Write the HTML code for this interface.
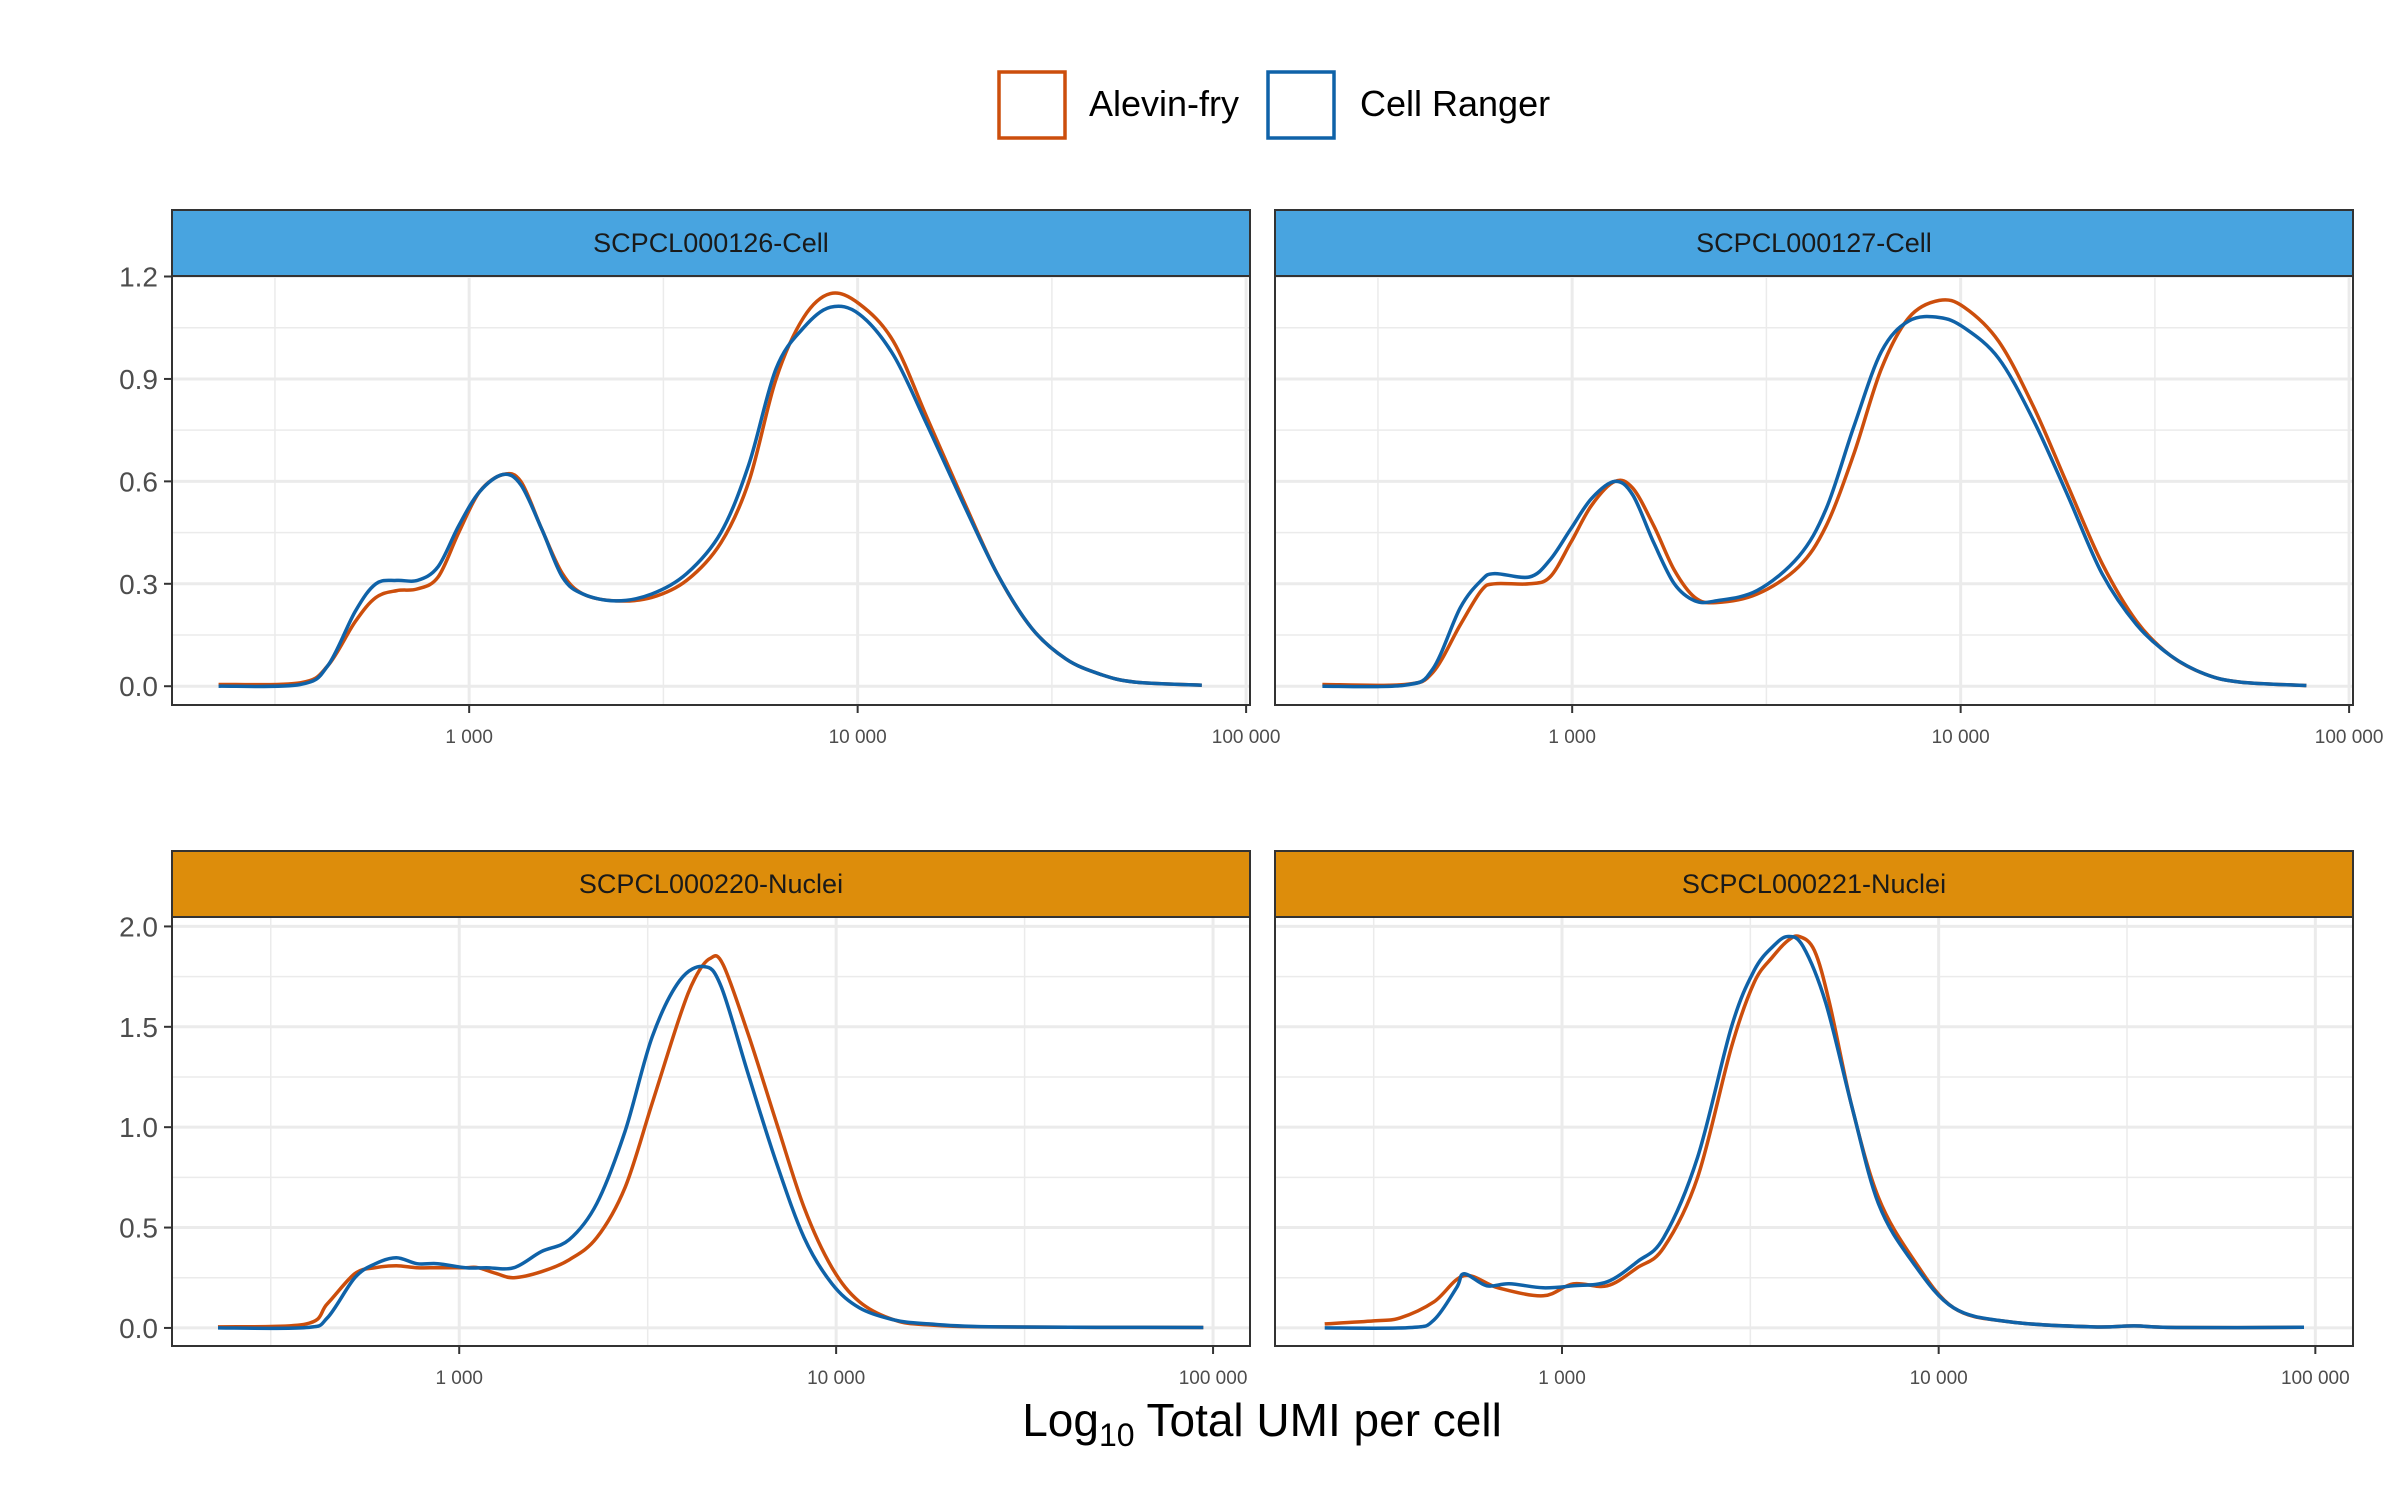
<!DOCTYPE html>
<html><head><meta charset="utf-8"><style>
html,body{margin:0;padding:0;background:#fff;}
svg{display:block;font-family:"Liberation Sans",Arial,sans-serif;}
</style></head><body>
<svg id="chart" width="2400" height="1500" viewBox="0 0 2400 1500">
<g>
 <rect x="999" y="72" width="66" height="66" fill="none" stroke="#CC4E0C" stroke-width="3.5"/>
 <text x="1089" y="116" font-size="36" fill="#000">Alevin-fry</text>
 <rect x="1268" y="72" width="66" height="66" fill="none" stroke="#0F62A8" stroke-width="3.5"/>
 <text x="1360" y="116" font-size="36" fill="#000">Cell Ranger</text>
</g>
<text x="1262" y="1436" font-size="46" text-anchor="middle" fill="#000">Log<tspan font-size="32" dy="10">10</tspan><tspan dy="-10"> Total UMI per cell</tspan></text>
</svg>
<script>
const panelNames = ["SCPCL000126-Cell","SCPCL000127-Cell","SCPCL000220-Nuclei","SCPCL000221-Nuclei"];
const xTickValues = [1000, 10000, 100000];
const xTickLabels = ["1 000","10 000","100 000"];
const yTicksTop = [0, 0.3, 0.6, 0.9, 1.2];
const yTickLabelsTop = ["0.0","0.3","0.6","0.9","1.2"];
const yTicksBottom = [0, 0.5, 1.0, 1.5, 2.0];
const yTickLabelsBottom = ["0.0","0.5","1.0","1.5","2.0"];
// log10(UMI) sample points per panel
const logX126 = [2.355,2.565,2.636,2.707,2.76,2.814,2.867,2.92,2.973,3.027,3.087,3.133,3.187,3.24,3.293,3.378,3.47,3.56,3.648,3.72,3.79,3.861,3.93,4.004,4.092,4.181,4.27,4.359,4.448,4.536,4.625,4.714,4.886];
const alevin126 = [0.005,0.01,0.06,0.19,0.26,0.28,0.285,0.32,0.45,0.57,0.62,0.60,0.46,0.33,0.27,0.25,0.26,0.31,0.42,0.60,0.90,1.08,1.15,1.12,1.01,0.78,0.55,0.33,0.17,0.08,0.035,0.012,0.003];
const ranger126 = [0,0.005,0.06,0.22,0.30,0.31,0.31,0.35,0.47,0.57,0.62,0.59,0.46,0.32,0.27,0.25,0.27,0.33,0.45,0.65,0.93,1.05,1.11,1.09,0.97,0.76,0.54,0.33,0.17,0.08,0.035,0.012,0.003];
const logX127 = [2.357,2.57,2.641,2.712,2.766,2.8,2.89,2.943,2.996,3.05,3.11,3.156,3.21,3.263,3.316,3.37,3.476,3.583,3.654,3.725,3.796,3.867,3.945,4.009,4.098,4.187,4.275,4.364,4.453,4.54,4.63,4.72,4.89];
const alevin127 = [0.005,0.005,0.04,0.18,0.28,0.30,0.30,0.32,0.42,0.53,0.60,0.58,0.47,0.34,0.26,0.245,0.27,0.35,0.47,0.68,0.93,1.08,1.13,1.11,1.01,0.82,0.59,0.36,0.19,0.09,0.035,0.012,0.002];
const ranger127 = [0,0.003,0.05,0.23,0.31,0.33,0.32,0.37,0.46,0.55,0.60,0.56,0.42,0.30,0.25,0.25,0.28,0.38,0.52,0.76,0.98,1.07,1.08,1.05,0.96,0.78,0.56,0.33,0.18,0.09,0.035,0.012,0.002];
const logX220a = [2.36,2.594,2.65,2.723,2.778,2.833,2.888,2.943,3.017,3.05,3.1,3.145,3.218,3.292,3.365,3.44,3.512,3.585,3.625,3.665,3.70,3.769,3.842,3.915,3.989,4.062,4.154,4.246,4.43,4.974];
const alevin220 = [0.005,0.02,0.12,0.27,0.30,0.31,0.30,0.30,0.30,0.30,0.27,0.25,0.28,0.34,0.45,0.70,1.12,1.55,1.74,1.84,1.81,1.45,1.02,0.60,0.30,0.13,0.04,0.015,0.005,0.002];
const logX220b = [2.36,2.594,2.65,2.723,2.778,2.833,2.888,2.943,3.017,3.072,3.145,3.218,3.292,3.365,3.44,3.512,3.585,3.65,3.695,3.769,3.842,3.915,3.989,4.062,4.154,4.246,4.43,4.974];
const ranger220 = [0,0.002,0.05,0.25,0.32,0.35,0.32,0.32,0.30,0.30,0.30,0.38,0.44,0.62,0.98,1.45,1.73,1.80,1.70,1.25,0.82,0.45,0.22,0.10,0.04,0.02,0.005,0.002];
const logX221a = [2.37,2.5,2.57,2.66,2.74,2.83,2.95,3.03,3.12,3.2,3.27,3.36,3.45,3.51,3.56,3.6,3.63,3.67,3.71,3.77,3.84,3.93,4.04,4.19,4.41,4.52,4.63,4.97];
const alevin221 = [0.02,0.035,0.05,0.13,0.26,0.2,0.16,0.22,0.21,0.3,0.4,0.75,1.4,1.72,1.85,1.93,1.95,1.88,1.62,1.1,0.65,0.35,0.1,0.03,0.005,0.01,0.002,0.003];
const logX221b = [2.37,2.6,2.66,2.72,2.74,2.8,2.86,2.95,3.03,3.12,3.2,3.27,3.36,3.45,3.51,3.56,3.6,3.64,3.7,3.77,3.84,3.93,4.04,4.19,4.41,4.52,4.63,4.97];
const ranger221 = [0,0.002,0.04,0.2,0.27,0.21,0.22,0.2,0.21,0.23,0.33,0.45,0.85,1.5,1.78,1.9,1.95,1.9,1.62,1.1,0.62,0.33,0.1,0.03,0.005,0.01,0.002,0.003];

const NS = "http://www.w3.org/2000/svg";
const svg = document.getElementById("chart");
function mk(tag, attrs, parent){const e=document.createElementNS(NS,tag);for(const k in attrs)e.setAttribute(k,attrs[k]);(parent||svg).appendChild(e);return e;}

const panels = [
 {name:panelNames[0],x0:172,x1:1250,sy0:210,sy1:276,py1:705,lmin:2.235,lmax:5.01,vmin:-0.055,vmax:1.2015,yt:yTicksTop,yl:yTickLabelsTop,minor:[0.15,0.45,0.75,1.05],strip:"#48A4E0",series:[[logX126,alevin126],[logX126,ranger126]]},
 {name:panelNames[1],x0:1275,x1:2353,sy0:210,sy1:276,py1:705,lmin:2.235,lmax:5.01,vmin:-0.055,vmax:1.2015,yt:yTicksTop,yl:yTickLabelsTop,minor:[0.15,0.45,0.75,1.05],strip:"#48A4E0",series:[[logX127,alevin127],[logX127,ranger127]]},
 {name:panelNames[2],x0:172,x1:1250,sy0:851,sy1:917,py1:1346,lmin:2.238,lmax:5.098,vmin:-0.09,vmax:2.047,yt:yTicksBottom,yl:yTickLabelsBottom,minor:[0.25,0.75,1.25,1.75],strip:"#DD8D0B",series:[[logX220a,alevin220],[logX220b,ranger220]]},
 {name:panelNames[3],x0:1275,x1:2353,sy0:851,sy1:917,py1:1346,lmin:2.238,lmax:5.10,vmin:-0.09,vmax:2.047,yt:yTicksBottom,yl:yTickLabelsBottom,minor:[0.25,0.75,1.25,1.75],strip:"#DD8D0B",series:[[logX221a,alevin221],[logX221b,ranger221]]}
];
const colors=["#CC4E0C","#0F62A8"];
const seriesNames=["alevin-fry","cell-ranger"];

function pathFrom(pts){
 let d="M"+pts[0][0].toFixed(1)+","+pts[0][1].toFixed(1);
 for(let i=0;i<pts.length-1;i++){
  const p0=pts[Math.max(0,i-1)],p1=pts[i],p2=pts[i+1],p3=pts[Math.min(pts.length-1,i+2)];
  const c1=[p1[0]+(p2[0]-p0[0])/6,p1[1]+(p2[1]-p0[1])/6];
  const c2=[p2[0]-(p3[0]-p1[0])/6,p2[1]-(p3[1]-p1[1])/6];
  d+=" C"+c1[0].toFixed(1)+","+c1[1].toFixed(1)+" "+c2[0].toFixed(1)+","+c2[1].toFixed(1)+" "+p2[0].toFixed(1)+","+p2[1].toFixed(1);
 }
 return d;
}

panels.forEach((p,pi)=>{
 const g=mk("g",{});
 
 
 const xs=v=>p.x0+(Math.log10(v)-p.lmin)/(p.lmax-p.lmin)*(p.x1-p.x0);
 const xl=l=>p.x0+(l-p.lmin)/(p.lmax-p.lmin)*(p.x1-p.x0);
 const ys=v=>p.py1-(v-p.vmin)/(p.vmax-p.vmin)*(p.py1-p.sy1);
 mk("rect",{x:p.x0,y:p.sy1,width:p.x1-p.x0,height:p.py1-p.sy1,fill:"#fff"},g);
 [2.5,3.5,4.5].forEach(l=>{const X=xl(l);if(X>p.x0&&X<p.x1){const ln=mk("line",{x1:X,x2:X,y1:p.sy1,y2:p.py1,stroke:"#EBEBEB","stroke-width":1.5},g);}});
 p.minor.forEach(v=>{const Y=ys(v);const ln=mk("line",{x1:p.x0,x2:p.x1,y1:Y,y2:Y,stroke:"#EBEBEB","stroke-width":1.5},g);});
 xTickValues.forEach((v,i)=>{const X=xs(v);
  if(X>p.x0&&X<p.x1){const ln=mk("line",{x1:X,x2:X,y1:p.sy1,y2:p.py1,stroke:"#EBEBEB","stroke-width":3},g);}
  const tk=mk("line",{x1:X,x2:X,y1:p.py1,y2:p.py1+8,stroke:"#333","stroke-width":2},g);
  
  const t=mk("text",{x:X,y:p.py1+38,"font-size":19,"text-anchor":"middle",fill:"#4D4D4D"},g);t.textContent=xTickLabels[i];
  
 });
 p.yt.forEach((v,i)=>{const Y=ys(v);
  const ln=mk("line",{x1:p.x0,x2:p.x1,y1:Y,y2:Y,stroke:"#EBEBEB","stroke-width":3},g);
  if(pi%2===0){
   const tk=mk("line",{x1:p.x0-8,x2:p.x0,y1:Y,y2:Y,stroke:"#333","stroke-width":2},g);
   const t=mk("text",{x:p.x0-14,y:Y+10,"font-size":28,"text-anchor":"end",fill:"#4D4D4D"},g);t.textContent=p.yl[i];
   
  }
 });
 p.series.forEach((s,si)=>{
  const pts=s[0].map((l,k)=>[xl(l),ys(s[1][k])]);
  const path=mk("path",{d:pathFrom(pts),fill:"none",stroke:colors[si],"stroke-width":3.5,"stroke-linejoin":"round"},g);
  
  
 });
 const b=mk("rect",{x:p.x0,y:p.sy1,width:p.x1-p.x0,height:p.py1-p.sy1,fill:"none",stroke:"#333","stroke-width":2},g);
 
 const st=mk("rect",{x:p.x0,y:p.sy0,width:p.x1-p.x0,height:p.sy1-p.sy0,fill:p.strip,stroke:"#333","stroke-width":2},g);
 
 const tt=mk("text",{x:(p.x0+p.x1)/2,y:(p.sy0+p.sy1)/2+9,"font-size":27,"text-anchor":"middle",fill:"#1A1A1A"},g);tt.textContent=p.name;
 
});
</script>
</body></html>
